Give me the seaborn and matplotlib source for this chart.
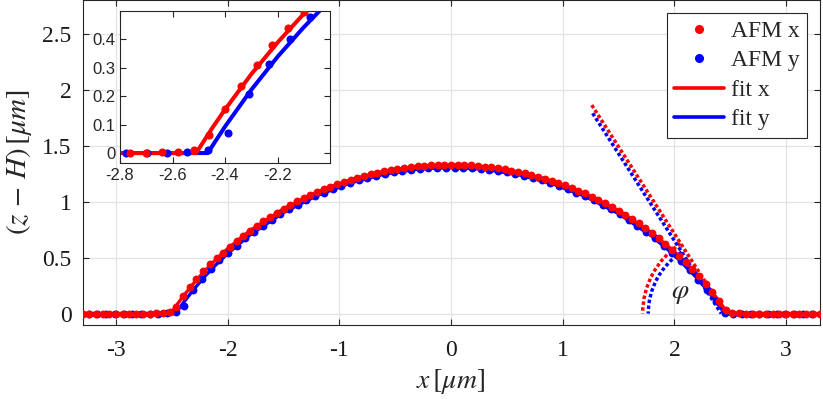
import numpy as np
import pandas as pd
import seaborn as sns
import matplotlib
matplotlib.use("Agg")
from matplotlib import pyplot as plt
from matplotlib.patches import Arc
from matplotlib.lines import Line2D
from matplotlib.ticker import FuncFormatter

# AFM profile along x (red)
afm_x_pos = [-3.30, -3.24, -3.18, -3.12, -3.06, -3.00, -2.94, -2.88, -2.82, -2.76,
             -2.70, -2.64, -2.58, -2.52, -2.46, -2.40, -2.34, -2.28, -2.22, -2.16,
             -2.10, -2.04, -1.98, -1.92, -1.86, -1.80, -1.74, -1.68, -1.62, -1.56,
             -1.50, -1.44, -1.38, -1.32, -1.26, -1.20, -1.14, -1.08, -1.02, -0.96,
             -0.90, -0.84, -0.78, -0.72, -0.66, -0.60, -0.54, -0.48, -0.42, -0.36,
             -0.30, -0.24, -0.18, -0.12, -0.06, 0.00, 0.06, 0.12, 0.18, 0.24,
             0.30, 0.36, 0.42, 0.48, 0.54, 0.60, 0.66, 0.72, 0.78, 0.84,
             0.90, 0.96, 1.02, 1.08, 1.14, 1.20, 1.26, 1.32, 1.38, 1.44,
             1.50, 1.56, 1.62, 1.68, 1.74, 1.80, 1.86, 1.92, 1.98, 2.04,
             2.10, 2.16, 2.22, 2.28, 2.34, 2.40, 2.46, 2.52, 2.58, 2.64,
             2.70, 2.76, 2.82, 2.88, 2.94, 3.00, 3.06, 3.12, 3.18, 3.24, 3.30]
afm_x_z = [0.000, 0.000, 0.000, 0.000, 0.000, 0.000, 0.000, 0.000, 0.000, 0.000,
           0.000, 0.003, 0.005, 0.012, 0.062, 0.155, 0.236, 0.310, 0.378, 0.440,
           0.497, 0.545, 0.599, 0.649, 0.697, 0.742, 0.785, 0.827, 0.865, 0.902,
           0.937, 0.971, 1.002, 1.032, 1.060, 1.087, 1.111, 1.135, 1.157, 1.178,
           1.197, 1.214, 1.231, 1.246, 1.260, 1.273, 1.284, 1.294, 1.303, 1.310,
           1.316, 1.322, 1.325, 1.328, 1.330, 1.330, 1.329, 1.327, 1.324, 1.319,
           1.313, 1.306, 1.298, 1.289, 1.278, 1.266, 1.253, 1.239, 1.223, 1.206,
           1.187, 1.167, 1.146, 1.123, 1.099, 1.073, 1.046, 1.017, 0.987, 0.954,
           0.920, 0.884, 0.846, 0.806, 0.764, 0.720, 0.673, 0.624, 0.572, 0.517,
           0.460, 0.398, 0.334, 0.265, 0.192, 0.113, 0.029, 0.004, 0.002, 0.000,
           0.000, 0.000, 0.000, 0.000, 0.000, 0.000, 0.000, 0.000, 0.000, 0.000, 0.000]

# AFM profile along y (blue)
afm_y_pos = [-3.245, -3.167, -3.089, -3.011, -2.933, -2.855, -2.777, -2.699, -2.621, -2.543,
             -2.465, -2.387, -2.309, -2.231, -2.153, -2.075, -1.997, -1.919, -1.841, -1.763,
             -1.685, -1.607, -1.529, -1.451, -1.373, -1.295, -1.217, -1.139, -1.061, -0.983,
             -0.905, -0.827, -0.749, -0.671, -0.593, -0.515, -0.437, -0.359, -0.281, -0.203,
             -0.125, -0.047, 0.031, 0.109, 0.187, 0.265, 0.343, 0.421, 0.499, 0.577,
             0.655, 0.733, 0.811, 0.889, 0.967, 1.045, 1.123, 1.201, 1.279, 1.357,
             1.435, 1.513, 1.591, 1.669, 1.747, 1.825, 1.903, 1.981, 2.059, 2.137,
             2.215, 2.293, 2.371, 2.449, 2.527, 2.605, 2.683, 2.761, 2.839, 2.917,
             2.995, 3.073, 3.151, 3.229]
afm_y_z = [0.000, 0.000, 0.000, 0.000, 0.000, 0.000, 0.000, 0.000, 0.000, 0.004,
           0.012, 0.072, 0.208, 0.313, 0.400, 0.478, 0.540, 0.608, 0.671, 0.730,
           0.786, 0.837, 0.886, 0.931, 0.972, 1.011, 1.047, 1.081, 1.112, 1.140,
           1.166, 1.190, 1.211, 1.230, 1.247, 1.261, 1.274, 1.284, 1.292, 1.299,
           1.303, 1.305, 1.305, 1.303, 1.299, 1.292, 1.284, 1.274, 1.261, 1.247,
           1.230, 1.211, 1.190, 1.166, 1.140, 1.112, 1.081, 1.047, 1.011, 0.972,
           0.931, 0.886, 0.837, 0.786, 0.730, 0.671, 0.608, 0.540, 0.466, 0.388,
           0.303, 0.211, 0.111, 0.004, 0.000, 0.000, 0.000, 0.000, 0.000, 0.000,
           0.000, 0.000, 0.000, 0.000]

# spherical cap fits
fit_x_pos = [-3.30, -2.51, -2.45, -2.40, -2.30, -2.20, -2.10, -2.00, -1.80, -1.50, -1.20, -0.90,
             -0.60, -0.30, 0.00, 0.30, 0.60, 0.90, 1.20, 1.50, 1.80, 2.00, 2.20, 2.30, 2.40, 2.48, 3.30]
fit_x_z = [0.0, 0.0, 0.086, 0.153, 0.277, 0.388, 0.489, 0.581, 0.742, 0.937, 1.087, 1.197,
           1.273, 1.316, 1.330, 1.313, 1.266, 1.187, 1.073, 0.920, 0.720, 0.554, 0.356, 0.241, 0.113, 0.0, 0.0]
fit_y_pos = [-3.30, -2.466, -2.40, -2.30, -2.20, -2.10, -2.00, -1.80, -1.50, -1.20, -0.90, -0.60,
             -0.30, 0.00, 0.30, 0.60, 0.90, 1.20, 1.50, 1.80, 2.00, 2.20, 2.30, 2.40, 2.45, 3.30]
fit_y_z = [0.0, 0.0, 0.093, 0.222, 0.338, 0.442, 0.537, 0.703, 0.903, 1.055, 1.168, 1.245,
           1.291, 1.305, 1.289, 1.242, 1.163, 1.048, 0.893, 0.690, 0.522, 0.320, 0.202, 0.071, 0.0, 0.0]

# tangent lines at the right contact line and contact angle arcs
tan_x_pos = [1.26, 2.46]
tan_x_z = [1.863, 0.0]
tan_y_pos = [1.268, 2.42]
tan_y_z = [1.79, 0.0]
angle_x = 57.2
angle_y = 57.2
arc_r_x = 0.744
arc_r_y = 0.654

RED = '#ff0000'
BLUE = '#0000ff'

df_x = pd.DataFrame({'pos': afm_x_pos, 'z': afm_x_z})
df_y = pd.DataFrame({'pos': afm_y_pos, 'z': afm_y_z})
df_fx = pd.DataFrame({'pos': fit_x_pos, 'z': fit_x_z})
df_fy = pd.DataFrame({'pos': fit_y_pos, 'z': fit_y_z})

sns.set_style("ticks")
plt.rcParams['font.family'] = ['Liberation Serif', 'DejaVu Serif']
plt.rcParams['mathtext.fontset'] = 'stix'
plt.rcParams['axes.unicode_minus'] = False

fig = plt.figure(figsize=(8.23, 3.99), dpi=100)
ax = fig.add_axes([0.1003, 0.186, 0.8955, 0.8135])


def draw_profiles(a, lw, s):
    sns.lineplot(data=df_fy, x='pos', y='z', color=BLUE, lw=lw, ax=a, sort=False, estimator=None)
    sns.lineplot(data=df_fx, x='pos', y='z', color=RED, lw=lw, ax=a, sort=False, estimator=None)
    sns.scatterplot(data=df_y, x='pos', y='z', color=BLUE, s=s, linewidth=0, ax=a, zorder=3)
    sns.scatterplot(data=df_x, x='pos', y='z', color=RED, s=s, linewidth=0, ax=a, zorder=3)


def matlab_box(a, color='#262626'):
    for sp in a.spines.values():
        sp.set_visible(True)
        sp.set_color(color)
        sp.set_linewidth(0.8)
    a.tick_params(direction='in', top=True, right=True, length=4, width=0.8, color=color)


draw_profiles(ax, 2.4, 32)

dots = (0, (1, 0.7))
sns.lineplot(x=tan_y_pos, y=tan_y_z, color=BLUE, lw=2.5, linestyle=dots, ax=ax, sort=False, estimator=None)
sns.lineplot(x=tan_x_pos, y=tan_x_z, color=RED, lw=2.5, linestyle=dots, ax=ax, sort=False, estimator=None)
ax.add_patch(Arc((tan_x_pos[1], 0), 2 * arc_r_x, 2 * arc_r_x, theta1=180 - angle_x, theta2=180,
                 color=RED, lw=2.5, linestyle=dots))
ax.add_patch(Arc((tan_y_pos[1], 0), 2 * arc_r_y, 2 * arc_r_y, theta1=180 - angle_y, theta2=180,
                 color=BLUE, lw=2.5, linestyle=dots))
ax.text(2.05, 0.18, r'$\varphi$', fontsize=20, ha='center', va='center')

ax.set_xlim(-3.3, 3.3)
ax.set_ylim(-0.1, 2.8)
ax.set_xticks([-3, -2, -1, 0, 1, 2, 3])
ax.set_yticks([0, 0.5, 1, 1.5, 2, 2.5])
fmt = FuncFormatter(lambda v, p: '%g' % v)
ax.xaxis.set_major_formatter(fmt)
ax.yaxis.set_major_formatter(fmt)
ax.grid(True, color='#e3e3e3', lw=0.9)
matlab_box(ax)
ax.tick_params(labelsize=17, labelcolor='#1a1a1a')
ax.tick_params(axis='x', pad=11)
ax.tick_params(axis='y', pad=8)
ax.set_xlabel(r'$x\,[\mu m]$', fontsize=20, labelpad=4)
ax.set_ylabel(r'$(z\,-\,H)\,[\mu m]$', fontsize=21, labelpad=6)

handles = [Line2D([], [], ls='none', marker='o', ms=5.5, color=RED),
           Line2D([], [], ls='none', marker='o', ms=5.5, color=BLUE),
           Line2D([], [], color=RED, lw=2.6),
           Line2D([], [], color=BLUE, lw=2.6)]
leg = ax.legend(handles, ['AFM x', 'AFM y', 'fit x', 'fit y'], loc='upper right',
                fontsize=17, handlelength=2.1, labelspacing=0.34, borderaxespad=0.55,
                fancybox=False, framealpha=1, handletextpad=0.3, borderpad=0.3)
leg.get_frame().set_edgecolor('#262626')
leg.get_frame().set_linewidth(0.8)

# inset zoom on the left contact line
ins = fig.add_axes([0.1458, 0.5907, 0.2552, 0.3825])
draw_profiles(ins, 2.9, 34)
ins.set_xlim(-2.8, -2.0)
ins.set_ylim(-0.036, 0.5)
ins.set_xticks([-2.8, -2.6, -2.4, -2.2])
ins.set_yticks([0, 0.1, 0.2, 0.3, 0.4])
ins.xaxis.set_major_formatter(fmt)
ins.yaxis.set_major_formatter(fmt)
ins.set_xlabel('')
ins.set_ylabel('')
ins.set_facecolor('white')
matlab_box(ins)
for lab in ins.get_xticklabels() + ins.get_yticklabels():
    lab.set_family(['Liberation Sans', 'DejaVu Sans'])
    lab.set_fontsize(12)
    lab.set_color('#262626')

plt.savefig('out.png', dpi=100)
